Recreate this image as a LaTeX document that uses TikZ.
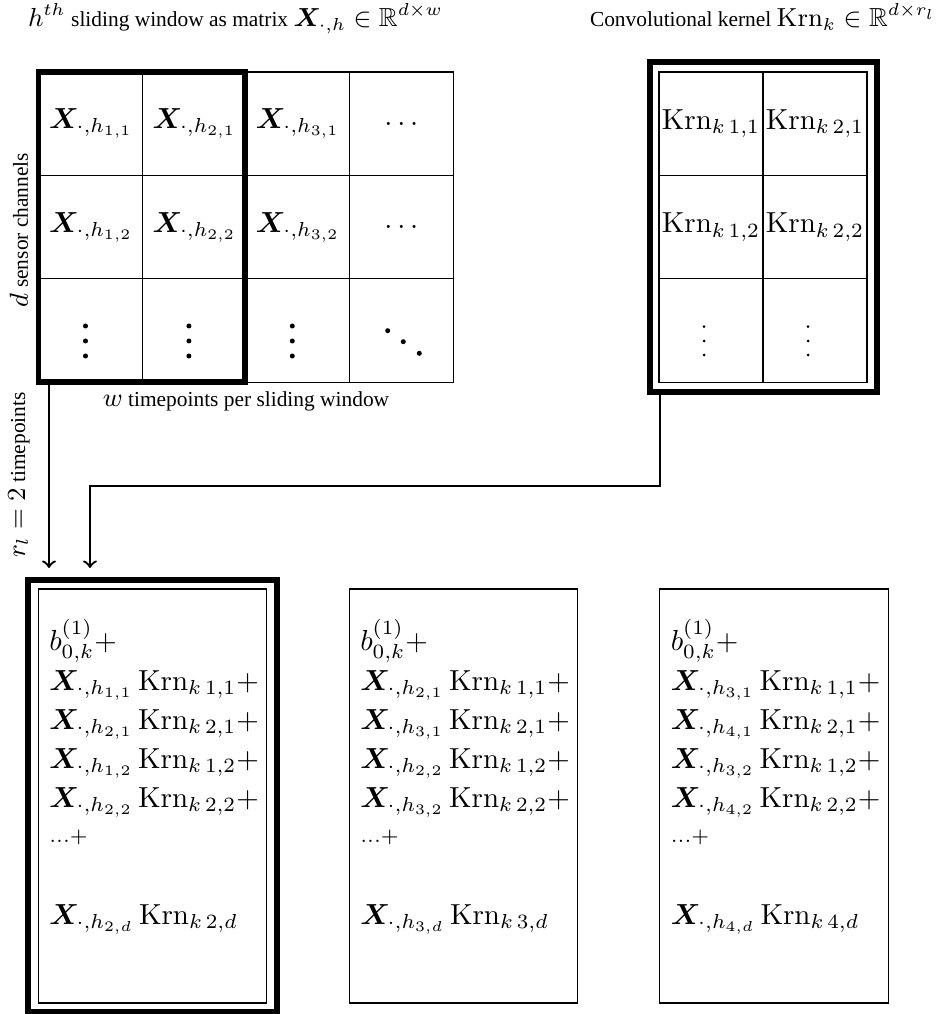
\documentclass[tikz,border=0pt]{standalone}
\usepackage{amsmath,amssymb,bm}
\usepackage[no-math]{fontspec}
\setmainfont{Liberation Serif}[Scale=0.82]
\usetikzlibrary{calc}
% one drawing unit
\newcommand{\pxu}{0.3448pt}
% window column entry and kernel entry
\newcommand{\Xh}[1]{\bm{X}_{\cdot,h_{#1}}}
\newcommand{\Krn}[1]{\mathrm{Krn}_{k\,#1}}
\begin{document}
\begin{tikzpicture}[x=\pxu,y=-\pxu,
  every node/.style={inner sep=0pt,outer sep=0pt},
  gridcell/.style={draw,thin,minimum width=103.4*\pxu,minimum height=103.4*\pxu},
  kerncell/.style={draw,thin,minimum width=104*\pxu,minimum height=103.4*\pxu},
  heavy/.style={draw,line width=2pt},
  sumbox/.style={draw,thin,minimum width=228.5*\pxu,minimum height=414*\pxu},
  term/.style={anchor=base west},
  caption/.style={font=\small},
  link/.style={thick,->},
]
\path[use as bounding box] (0,0) rectangle (941,1014);

% titles
\node[caption,anchor=base west] (ttlwin) at (28,27)
  {$h^{th}$ sliding window as matrix $\bm{X}_{\cdot,h}\in\mathbb{R}^{d\times w}$};
\node[caption,anchor=base west] (ttlker) at (590,27)
  {Convolutional kernel $\mathrm{Krn}_k\in\mathbb{R}^{d\times r_l}$};

% sliding window matrix
\node[gridcell] (g11) at (91.2,123.7) {$\Xh{1,1}$};
\node[gridcell] (g12) at (194.6,123.7) {$\Xh{2,1}$};
\node[gridcell] (g13) at (298.0,123.7) {$\Xh{3,1}$};
\node[gridcell] (g14) at (401.4,123.7) {$.\,.\,.$};
\node[gridcell] (g21) at (91.2,227.1) {$\Xh{1,2}$};
\node[gridcell] (g22) at (194.6,227.1) {$\Xh{2,2}$};
\node[gridcell] (g23) at (298.0,227.1) {$\Xh{3,2}$};
\node[gridcell] (g24) at (401.4,227.1) {$.\,.\,.$};
\node[gridcell] (g31) at (91.2,330.5) {};
\node[gridcell] (g32) at (194.6,330.5) {};
\node[gridcell] (g33) at (298.0,330.5) {};
\node[gridcell] (g34) at (401.4,330.5) {};
\foreach \c in {g31,g32,g33}{
  \foreach \dy in {-4.5,10.5,25.5}{
    \fill ($(\c)+(-5.7,\dy)$) circle[radius=2.5];
  }
}
\foreach \dx/\dy in {-13.7/0.2,1.9/11.2,17.9/22.8}{
  \fill ($(g34)+(\dx,\dy)$) circle[radius=2.5];
}

% kernel matrix
\node[kerncell] (k11) at (711,123.7) {$\Krn{1,1}$};
\node[kerncell] (k12) at (815,123.7) {$\Krn{2,1}$};
\node[kerncell] (k21) at (711,227.1) {$\Krn{1,2}$};
\node[kerncell] (k22) at (815,227.1) {$\Krn{2,2}$};
\node[kerncell] (k31) at (711,330.5) {};
\node[kerncell] (k32) at (815,330.5) {};
\foreach \c in {k31,k32}{
  \foreach \dy in {-3.8,10.5,24.5}{
    \fill ($(\c)+(-7,\dy)$) circle[radius=1.5];
  }
}

% highlighted window and kernel frame
\node[heavy,minimum width=206.5*\pxu,minimum height=310*\pxu] (win) at (141.75,227) {};
\node[heavy,minimum width=227*\pxu,minimum height=330*\pxu] (ker) at (763.5,227) {};

% axis labels
\node[caption,anchor=base] (wlab) at (246,407) {$w$ timepoints per sliding window};
\node[caption,rotate=90] (dlab) at (19,230) {$d$ sensor channels};
\node[caption,rotate=90] (rlab) at (19,475) {$r_l = 2$ timepoints};

% output sums
\node[sumbox] (s1) at (152.5,796) {};
\node[sumbox] (s2) at (463.5,796) {};
\node[sumbox] (s3) at (774,796) {};
\node[heavy,minimum width=248.7*\pxu,minimum height=432*\pxu] (sel) at (152.65,796) {};

\foreach \n/\a/\b in {1/1/2,2/2/3,3/3/4}{
  \node[term] (t\n a) at ($(s\n.west)+(11,-146)$) {$b_{0,k}^{(1)}+$};
  \node[term] (t\n b) at ($(s\n.west)+(11,-106)$) {$\Xh{\a,1}\,\Krn{1,1}+$};
  \node[term] (t\n c) at ($(s\n.west)+(11,-67)$)  {$\Xh{\b,1}\,\Krn{2,1}+$};
  \node[term] (t\n d) at ($(s\n.west)+(11,-28)$)  {$\Xh{\a,2}\,\Krn{1,2}+$};
  \node[term] (t\n e) at ($(s\n.west)+(11,11)$)   {$\Xh{\b,2}\,\Krn{2,2}+$};
  \node[term] (t\n f) at ($(s\n.west)+(11,46)$)   {$\scriptstyle\ldots+$};
  \node[term] (t\n g) at ($(s\n.west)+(11,128)$)  {$\Xh{\b,d}\,\Krn{\b,d}$};
}

% connectors into the first output
\coordinate (tipA) at (49,568);
\coordinate (tipB) at (90,568);
\coordinate (bend) at (660,486);
\draw[link] (tipA |- win.south) -- (tipA);
\draw[link] (bend |- ker.south) -- (bend) -| (tipB);
\end{tikzpicture}
\end{document}
